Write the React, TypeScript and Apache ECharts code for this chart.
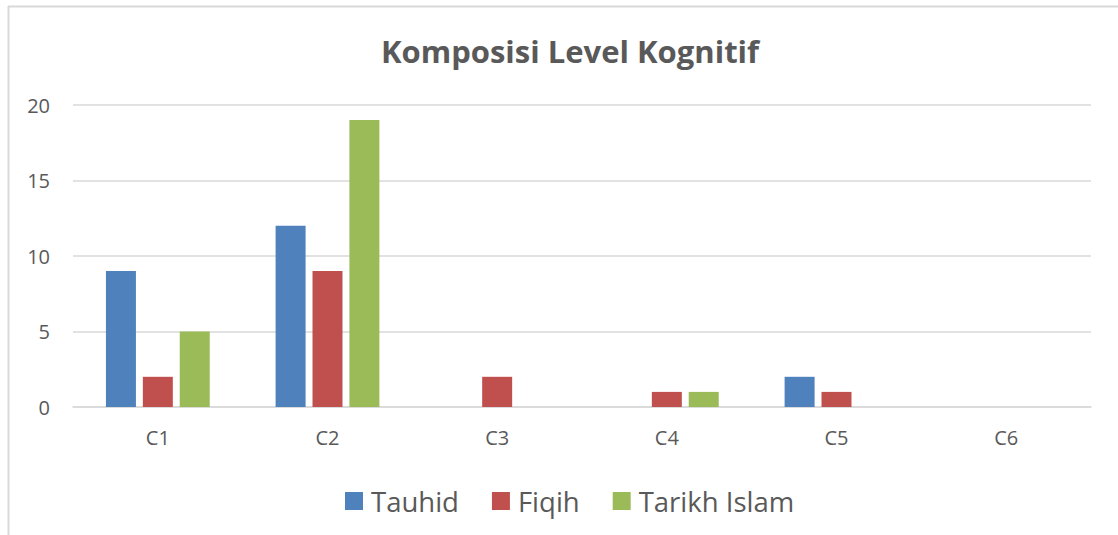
import React, { useEffect, useRef } from "react";
import * as echarts from "echarts";

const categories = ["C1", "C2", "C3", "C4", "C5", "C6"];
const tauhid = [9, 12, 0, 0, 2, 0];
const fiqih = [2, 9, 2, 1, 1, 0];
const tarikh = [5, 19, 0, 1, 0, 0];
const seriesNames = ["Tauhid", "Fiqih", "Tarikh Islam"];
const colors = ["#4F81BD", "#C0504D", "#9BBB59"];

export default function App() {
  const ref = useRef<HTMLDivElement>(null);
  useEffect(() => {
    if (!ref.current) return;
    const chart = echarts.init(ref.current, undefined, { renderer: "svg" });
    const font = "Open Sans, Liberation Sans, sans-serif";
    const values = [tauhid, fiqih, tarikh];
    chart.setOption({
      animation: false,
      backgroundColor: "#ffffff",
      title: {
        text: "Komposisi Level Kognitif",
        left: 565,
        textAlign: "center",
        top: 30,
        textStyle: { fontFamily: font, fontSize: 31, fontWeight: "bold", color: "#595959" },
      },
      legend: {
        data: seriesNames,
        left: 340,
        top: 482,
        itemWidth: 18,
        itemHeight: 18,
        itemGap: 33,
        icon: "rect",
        textStyle: { fontFamily: font, fontSize: 27.5, color: "#595959", padding: [0, 0, 0, 3] },
      },
      grid: { left: 73, right: 27, top: 105, bottom: 128 },
      xAxis: {
        type: "category",
        data: categories,
        axisLine: { lineStyle: { color: "#d9d9d9", width: 1.5 } },
        axisTick: { show: false },
        axisLabel: { fontFamily: font, fontSize: 20, color: "#595959", margin: 20 },
      },
      yAxis: {
        type: "value",
        min: 0,
        max: 20,
        interval: 5,
        axisLine: { show: false },
        axisTick: { show: false },
        splitLine: { lineStyle: { color: "#d9d9d9", width: 1.5 } },
        axisLabel: { fontFamily: font, fontSize: 20, color: "#595959", margin: 23 },
      },
      graphic: [
        { type: "line", shape: { x1: 8.5, y1: 6, x2: 8.5, y2: 535 }, style: { stroke: "#d9d9d9", lineWidth: 2 } },
        { type: "line", shape: { x1: 8, y1: 6.5, x2: 1118, y2: 6.5 }, style: { stroke: "#d9d9d9", lineWidth: 2 } },
      ],
      series: seriesNames.map((name, i) => ({
        name,
        type: "bar",
        data: values[i],
        barWidth: 30,
        barGap: "23%",
        itemStyle: { color: colors[i] },
      })),
    });
    return () => chart.dispose();
  }, []);
  return <div ref={ref} style={{ position: "absolute", left: 0, top: 0, width: 1118, height: 535 }} />;
}
